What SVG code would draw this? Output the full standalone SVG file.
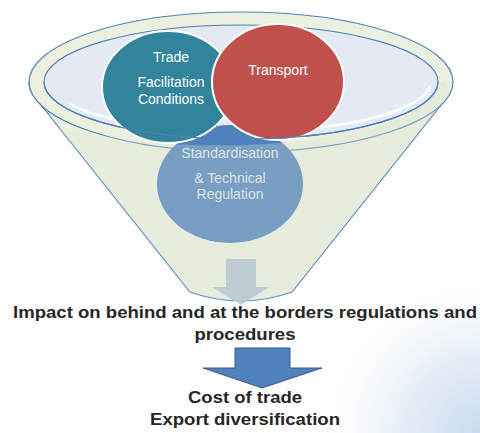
<svg xmlns="http://www.w3.org/2000/svg" width="480" height="433" viewBox="0 0 480 433">
  <defs>
    <radialGradient id="glow" cx="480" cy="433" r="170" gradientUnits="userSpaceOnUse">
      <stop offset="0" stop-color="#c9dcf0"/>
      <stop offset="0.5" stop-color="#e8f0f8"/>
      <stop offset="1" stop-color="#ffffff" stop-opacity="0"/>
    </radialGradient>
    <clipPath id="belowRim">
      <path d="M0,82 A197,57 0 0 0 438,82 L480,82 L480,433 L0,433 Z"/>
    </clipPath>
  </defs>
  <style>
    .rim { stroke: #4f81bd; stroke-width: 1.2; }
    .lbl { font-family: "Liberation Sans", Arial, sans-serif; fill: #ffffff; text-anchor: middle; font-size: 14px; }
    .lbl-soft { font-family: "Liberation Sans", Arial, sans-serif; fill: #dde5e4; text-anchor: middle; font-size: 14px; }
    .cap { font-family: "Liberation Sans", Arial, sans-serif; font-weight: bold; fill: #262626; text-anchor: middle; font-size: 17px; }
  </style>

  <rect width="480" height="433" fill="#ffffff"/>
  <rect width="480" height="433" fill="url(#glow)"/>

  <!-- funnel body and rim -->
  <g id="funnel">
    <path class="rim" fill="#eef3e3" d="M33,95 L190,292 Q241,310 292,292 L449,95 A212,70 0 0 0 29,82 Q29,89 33,95 Z"/>
    <ellipse class="rim" cx="241" cy="82" rx="212" ry="70" fill="#ecf1df"/>
    <ellipse class="rim" cx="241" cy="82" rx="197" ry="57" fill="#e5e9f3"/>
    <path d="M70,104 A190,50 0 0 0 430,86" fill="none" stroke="#ffffff" stroke-width="3" opacity="0.8"/>
  </g>

  <!-- circles inside the funnel -->
  <g id="standardisation">
    <ellipse cx="230" cy="184" rx="73" ry="59" fill="#4f81bd"/>
  </g>
  <g id="trade-facilitation">
    <ellipse cx="168" cy="87" rx="66" ry="56" fill="#31849b" stroke="#ffffff" stroke-width="2"/>
  </g>
  <g id="transport">
    <ellipse cx="278" cy="82" rx="66" ry="58" fill="#c0504d" stroke="#ffffff" stroke-width="2"/>
  </g>

  <!-- translucent front wall of the funnel -->
  <path clip-path="url(#belowRim)" fill="#d8e0d0" opacity="0.3" d="M33,95 L190,292 Q241,310 292,292 L449,95 A212,70 0 0 0 29,82 Q29,89 33,95 Z"/>
  <path class="rim" fill="none" d="M44,82 A197,57 0 0 0 438,82"/>

  <!-- labels -->
  <text class="lbl" x="171" y="62">Trade</text>
  <text class="lbl" x="171" y="87">Facilitation</text>
  <text class="lbl" x="171" y="104">Conditions</text>
  <text class="lbl" x="278" y="75">Transport</text>
  <text class="lbl-soft" x="230" y="158">Standardisation</text>
  <text class="lbl-soft" x="230" y="183">&amp; Technical</text>
  <text class="lbl-soft" x="230" y="199">Regulation</text>

  <!-- arrows -->
  <g id="connectors">
    <path d="M226,259 L256,259 L256,287 L269,287 L241,305 L212,287 L226,287 Z" fill="#b9c8d3" opacity="0.9"/>
    <path d="M235,348 L290,348 L290,368 L322,368 L262,388 L203,368 L235,368 Z" fill="#4f81bd" stroke="#385d8a" stroke-width="1"/>
  </g>

  <g id="impact">
    <text class="cap" x="245" y="318" textLength="464" lengthAdjust="spacingAndGlyphs">Impact on behind and at the borders regulations and</text>
    <text class="cap" x="245" y="340" textLength="101" lengthAdjust="spacingAndGlyphs">procedures</text>
  </g>
  <g id="outcomes">
    <text class="cap" x="245" y="403" textLength="114" lengthAdjust="spacingAndGlyphs">Cost of trade</text>
    <text class="cap" x="245" y="425" textLength="190" lengthAdjust="spacingAndGlyphs">Export diversification</text>
  </g>
</svg>
